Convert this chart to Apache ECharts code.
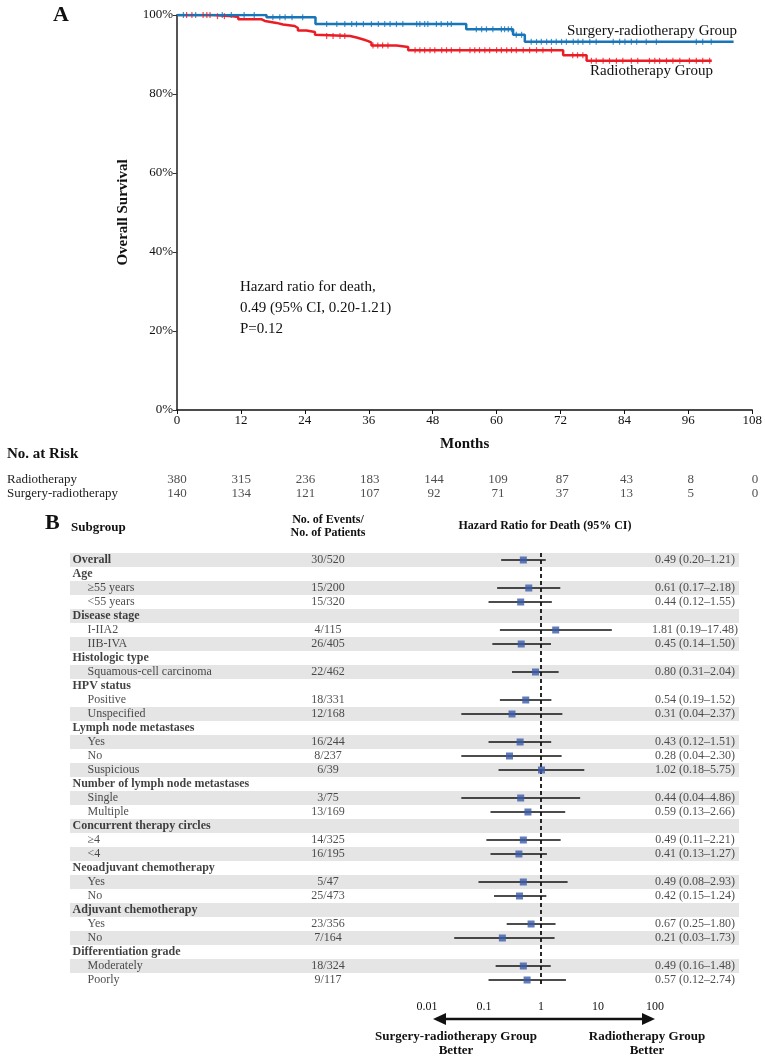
<!DOCTYPE html>
<html><head><meta charset="utf-8">
<script src="https://cdn.jsdelivr.net/npm/echarts/dist/echarts.min.js"></script>
<style>html,body{margin:0;padding:0;background:#fff}#c{width:765px;height:1062px}</style>
</head><body><div id="c"></div>
<script>
const FONT = '"Liberation Serif","Times New Roman",serif';

// ---------- Panel A: Kaplan-Meier ----------
const rtTimes = [0, 6.8, 10.5, 11.5, 15.9, 16.5, 18.7, 19.9, 22.1, 22.7, 24.3, 25.9, 26.2, 32.5, 33.7, 35.0, 35.9, 36.5, 41.2, 43.4, 72.5, 76.9, 100.4];
const rtSurv  = [1, 0.997, 0.995, 0.989, 0.985, 0.980, 0.976, 0.972, 0.967, 0.961, 0.957, 0.950, 0.947, 0.943, 0.938, 0.934, 0.930, 0.923, 0.919, 0.911, 0.898, 0.884, 0.884];
const srTimes = [0, 16.8, 26.0, 54.3, 63.1, 65.3, 104.5];
const srSurv  = [1, 0.994, 0.977, 0.964, 0.950, 0.932, 0.932];
const rtCensor = [1.8, 2.8, 4.9, 5.6, 6.2, 7.6, 8.9, 28.1, 29.3, 30.6, 31.5, 36.8, 37.7, 38.6, 39.6, 44.7, 45.6, 46.5, 47.5, 48.4, 49.7, 50.6, 51.5, 53.1, 55, 55.9, 56.8, 57.8, 58.7, 60, 60.9, 61.9, 62.8, 63.7, 65, 66.2, 67.5, 68.7, 70.3, 74.3, 75.2, 76.2, 77.8, 78.7, 80, 81.2, 82.5, 83.7, 85.3, 86.5, 88.7, 89.7, 90.6, 91.9, 93.1, 94.4, 96.2, 97.5, 98.7, 100];
const srCensor = [1.2, 3.5, 8.5, 10.2, 12.6, 14.5, 18, 19.3, 20.3, 21.6, 23.6, 28.1, 30, 31.5, 32.8, 33.7, 35, 36.5, 37.8, 39, 40, 41.2, 42.4, 45, 45.6, 46.5, 47.1, 48.7, 49.6, 50.8, 51.5, 56.2, 57.2, 58.1, 59.3, 60.9, 61.5, 62.2, 62.8, 63.7, 64.7, 66.5, 67.5, 68.4, 69.4, 70.3, 71.2, 72.2, 73.1, 74.4, 75.3, 76.2, 77.5, 78.7, 81.9, 83.1, 84.1, 85.3, 86.3, 88.1, 90, 97.5, 98.7, 100.3];

const riskRows  = ['Radiotherapy', 'Surgery-radiotherapy'];
const riskTimes = [0, 12, 24, 36, 48, 60, 72, 84, 96, 108];
const riskRadio = [380, 315, 236, 183, 144, 109, 87, 43, 8, 0];
const riskSurg  = [140, 134, 121, 107, 92, 71, 37, 13, 5, 0];

// ---------- Panel B: Forest ----------
const fpLabels = ['Overall','Age','\u226555 years','<55 years','Disease stage','I-IIA2','IIB-IVA','Histologic type','Squamous-cell carcinoma','HPV status','Positive','Unspecified','Lymph node metastases','Yes','No','Suspicious','Number of lymph node metastases','Single','Multiple','Concurrent therapy circles','\u22654','<4','Neoadjuvant chemotherapy','Yes','No','Adjuvant chemotherapy','Yes','No','Differentiation grade','Moderately','Poorly'];
const fpHeading = [1,1,0,0,1,0,0,1,0,1,0,0,1,0,0,0,1,0,0,1,0,0,1,0,0,1,0,0,1,0,0];
const fpEvents = ['30/520',null,'15/200','15/320',null,'4/115','26/405',null,'22/462',null,'18/331','12/168',null,'16/244','8/237','6/39',null,'3/75','13/169',null,'14/325','16/195',null,'5/47','25/473',null,'23/356','7/164',null,'18/324','9/117'];
const fpHR = [0.49,null,0.61,0.44,null,1.81,0.45,null,0.80,null,0.54,0.31,null,0.43,0.28,1.02,null,0.44,0.59,null,0.49,0.41,null,0.49,0.42,null,0.67,0.21,null,0.49,0.57];
const fpLo = [0.20,null,0.17,0.12,null,0.19,0.14,null,0.31,null,0.19,0.04,null,0.12,0.04,0.18,null,0.04,0.13,null,0.11,0.13,null,0.08,0.15,null,0.25,0.03,null,0.16,0.12];
const fpHi = [1.21,null,2.18,1.55,null,17.48,1.50,null,2.04,null,1.52,2.37,null,1.51,2.30,5.75,null,4.86,2.66,null,2.21,1.27,null,2.93,1.24,null,1.80,1.73,null,1.48,2.74];
const fpShade = [1,0,1,0,1,0,1,0,1,0,0,1,0,1,0,1,0,1,0,1,0,1,0,1,0,1,0,1,0,1,0];
const forestTickLabels = ['0.01','0.1','1','10','100'];

// ---------- helpers ----------
function survAt(times, surv, t) { let s = 1; for (let i = 0; i < times.length; i++) { if (times[i] <= t) s = surv[i]; } return s; }
const RED = '#ec1c24', BLUE = '#1875b9', SQ = '#3b5ba7', SHADE = '#e5e5e5';
const TABLE_W = 669;
const COL_NAME = 2, COL_INDENT = 17, COL_EVENTS = 258, COL_VALUES = 625;
const rowIdx = fpLabels.map((_, i) => i);
const fmt = v => v.toFixed(2);

const txt = (x, y, text, size, weight, align, extra) => Object.assign({
  type: 'text', x: x, y: y, silent: true,
  style: { text: text, font: (weight || 'normal') + ' ' + size + 'px ' + FONT, fill: '#111',
           textAlign: align || 'left', textVerticalAlign: 'middle', align: align || 'left', verticalAlign: 'middle' }
}, extra || {});

const chart = echarts.init(document.getElementById('c'), null, { renderer: 'canvas' });
const option = {
  animation: false,
  backgroundColor: '#fff',
  grid: [
    { left: 177, top: 15, width: 578, height: 395 },          // KM
    { left: 177, top: 473, width: 578, height: 28 },          // at risk
    { left: 70, top: 553, width: TABLE_W, height: 434 },      // table
    { left: 427, top: 553, width: 228, height: 434 }          // forest
  ],
  xAxis: [
    { gridIndex: 0, type: 'value', min: 0, max: 108, interval: 12,
      name: 'Months', nameLocation: 'middle', nameGap: 27,
      nameTextStyle: { fontFamily: FONT, fontWeight: 'bold', fontSize: 15, color: '#111' },
      axisLine: { lineStyle: { color: '#111', width: 1.5 } },
      axisTick: { length: 4, lineStyle: { color: '#111' } },
      axisLabel: { margin: 4, fontFamily: FONT, fontSize: 13, color: '#111' },
      splitLine: { show: false } },
    { gridIndex: 1, type: 'value', min: 0, max: 108, show: false },
    { gridIndex: 2, type: 'value', min: 0, max: TABLE_W, show: false },
    { gridIndex: 3, type: 'log', logBase: 10, min: 0.01, max: 100, offset: 5,
      axisLine: { lineStyle: { color: '#111', width: 1.5 } },
      axisTick: { inside: true, length: 6, lineStyle: { color: '#111', width: 1.5 } },
      axisLabel: { margin: 9, fontFamily: FONT, fontSize: 12, color: '#111',
        formatter: v => forestTickLabels[Math.round(Math.log10(v)) + 2] },
      splitLine: { show: false }, minorTick: { show: false } }
  ],
  yAxis: [
    { gridIndex: 0, type: 'value', min: 0, max: 1, interval: 0.2,
      name: 'Overall Survival', nameLocation: 'middle', nameGap: 46,
      nameTextStyle: { fontFamily: FONT, fontWeight: 'bold', fontSize: 15, color: '#111' },
      axisLine: { show: true, lineStyle: { color: '#555', width: 2 } },
      axisTick: { show: true, length: 4, lineStyle: { color: '#333' } },
      axisLabel: { margin: 4, fontFamily: FONT, fontSize: 13, color: '#111', formatter: v => Math.round(v * 100) + '%' },
      splitLine: { show: false } },
    { gridIndex: 1, type: 'category', data: riskRows, inverse: true,
      axisLine: { show: false }, axisTick: { show: false },
      axisLabel: { interval: 0, hideOverlap: false, align: 'left', margin: 170, fontFamily: FONT, fontSize: 13, color: '#222' } },
    { gridIndex: 2, type: 'category', data: rowIdx, inverse: true, show: false },
    { gridIndex: 3, type: 'category', data: rowIdx, inverse: true, show: false }
  ],
  series: [
    { type: 'line', xAxisIndex: 0, yAxisIndex: 0, step: 'end', showSymbol: false, symbol: 'none',
      lineStyle: { color: RED, width: 2.5 }, data: rtTimes.map((t, i) => [t, rtSurv[i]]), z: 3 },
    { type: 'line', xAxisIndex: 0, yAxisIndex: 0, step: 'end', showSymbol: false, symbol: 'none',
      lineStyle: { color: BLUE, width: 2.5 }, data: srTimes.map((t, i) => [t, srSurv[i]]), z: 4 },
    { type: 'scatter', xAxisIndex: 0, yAxisIndex: 0, symbol: 'rect', symbolSize: [1.2, 6],
      itemStyle: { color: RED }, data: rtCensor.map(t => [t, survAt(rtTimes, rtSurv, t)]), z: 5 },
    { type: 'scatter', xAxisIndex: 0, yAxisIndex: 0, symbol: 'rect', symbolSize: [1.2, 6],
      itemStyle: { color: BLUE }, data: srCensor.map(t => [t, survAt(srTimes, srSurv, t)]), z: 6 },
    // at-risk numbers
    { type: 'scatter', xAxisIndex: 1, yAxisIndex: 1, symbolSize: 1, itemStyle: { color: 'rgba(0,0,0,0)' },
      label: { show: true, position: 'inside', formatter: '{b}', fontFamily: FONT, fontSize: 13, color: '#222' },
      data: riskTimes.map((t, i) => ({ name: String(riskRadio[i]), value: [t, 0] })) },
    { type: 'scatter', xAxisIndex: 1, yAxisIndex: 1, symbolSize: 1, itemStyle: { color: 'rgba(0,0,0,0)' },
      label: { show: true, position: 'inside', formatter: '{b}', fontFamily: FONT, fontSize: 13, color: '#222' },
      data: riskTimes.map((t, i) => ({ name: String(riskSurg[i]), value: [t, 1] })) },
    // shading
    { type: 'bar', xAxisIndex: 2, yAxisIndex: 2, barWidth: '100%', silent: true, z: 0,
      itemStyle: { color: SHADE }, data: fpShade.map(s => s ? TABLE_W : '-') },
    // subgroup names (headings)
    { type: 'scatter', xAxisIndex: 2, yAxisIndex: 2, symbolSize: 1, itemStyle: { color: 'rgba(0,0,0,0)' },
      label: { show: true, position: 'right', distance: 0, formatter: '{b}', fontFamily: FONT, fontSize: 12, fontWeight: 'bold', color: '#111' },
      data: fpLabels.map((l, i) => fpHeading[i] ? { name: l, value: [COL_NAME, i] } : null).filter(Boolean) },
    // subgroup names (items)
    { type: 'scatter', xAxisIndex: 2, yAxisIndex: 2, symbolSize: 1, itemStyle: { color: 'rgba(0,0,0,0)' },
      label: { show: true, position: 'right', distance: 0, formatter: '{b}', fontFamily: FONT, fontSize: 12, color: '#222' },
      data: fpLabels.map((l, i) => fpHeading[i] ? null : { name: l, value: [COL_INDENT, i] }).filter(Boolean) },
    // events
    { type: 'scatter', xAxisIndex: 2, yAxisIndex: 2, symbolSize: 1, itemStyle: { color: 'rgba(0,0,0,0)' },
      label: { show: true, position: 'inside', formatter: '{b}', fontFamily: FONT, fontSize: 12, color: '#222' },
      data: fpEvents.map((e, i) => e ? { name: e, value: [COL_EVENTS, i] } : null).filter(Boolean) },
    // HR text
    { type: 'scatter', xAxisIndex: 2, yAxisIndex: 2, symbolSize: 1, itemStyle: { color: 'rgba(0,0,0,0)' },
      label: { show: true, position: 'inside', formatter: '{b}', fontFamily: FONT, fontSize: 12, color: '#222' },
      data: fpHR.map((h, i) => h != null ? { name: fmt(h) + ' (' + fmt(fpLo[i]) + '\u2013' + fmt(fpHi[i]) + ')', value: [COL_VALUES, i] } : null).filter(Boolean) },
    // CI whiskers
    { type: 'custom', xAxisIndex: 3, yAxisIndex: 3, z: 5,
      data: fpHR.map((h, i) => h != null ? [fpLo[i], fpHi[i], i] : null).filter(Boolean),
      encode: { x: [0, 1], y: 2 },
      renderItem: (params, api) => {
        const a = api.coord([api.value(0), api.value(2)]);
        const b = api.coord([api.value(1), api.value(2)]);
        return { type: 'line', shape: { x1: a[0], y1: a[1], x2: b[0], y2: b[1] }, style: { stroke: '#111', lineWidth: 1.5 } };
      } },
    // HR squares + reference line
    { type: 'scatter', xAxisIndex: 3, yAxisIndex: 3, symbol: 'rect', symbolSize: 7, z: 6,
      itemStyle: { color: SQ },
      data: fpHR.map((h, i) => h != null ? [h, i] : null).filter(Boolean),
      markLine: { silent: true, symbol: ['none', 'none'], label: { show: false },
        lineStyle: { color: '#111', type: [4, 3], width: 1.8 }, data: [{ xAxis: 1 }] } }
  ],
  graphic: [
    txt(53, 15, 'A', 22, 'bold'),
    txt(737, 31, 'Surgery-radiotherapy Group', 15, 'normal', 'right'),
    txt(713, 71, 'Radiotherapy Group', 15, 'normal', 'right'),
    txt(240, 287, 'Hazard ratio for death,', 15),
    txt(240, 308, '0.49 (95% CI, 0.20-1.21)', 15),
    txt(240, 329, 'P=0.12', 15),
    txt(7, 454, 'No. at Risk', 15, 'bold'),
    txt(45, 523, 'B', 22, 'bold'),
    txt(71, 528, 'Subgroup', 13, 'bold'),
    txt(328, 520, 'No. of Events/', 12, 'bold', 'center'),
    txt(328, 533, 'No. of Patients', 12, 'bold', 'center'),
    txt(545, 526, 'Hazard Ratio for Death (95% CI)', 12, 'bold', 'center'),
    txt(456, 1037, 'Surgery-radiotherapy Group', 13, 'bold', 'center'),
    txt(456, 1051, 'Better', 13, 'bold', 'center'),
    txt(647, 1037, 'Radiotherapy Group', 13, 'bold', 'center'),
    txt(647, 1051, 'Better', 13, 'bold', 'center'),
    { type: 'line', silent: true, shape: { x1: 444, y1: 1019, x2: 644, y2: 1019 }, style: { stroke: '#111', lineWidth: 2.5 } },
    { type: 'polygon', silent: true, shape: { points: [[433, 1019], [446, 1013], [446, 1025]] }, style: { fill: '#111' } },
    { type: 'polygon', silent: true, shape: { points: [[655, 1019], [642, 1013], [642, 1025]] }, style: { fill: '#111' } }
  ]
};
chart.setOption(option);
</script></body></html>
